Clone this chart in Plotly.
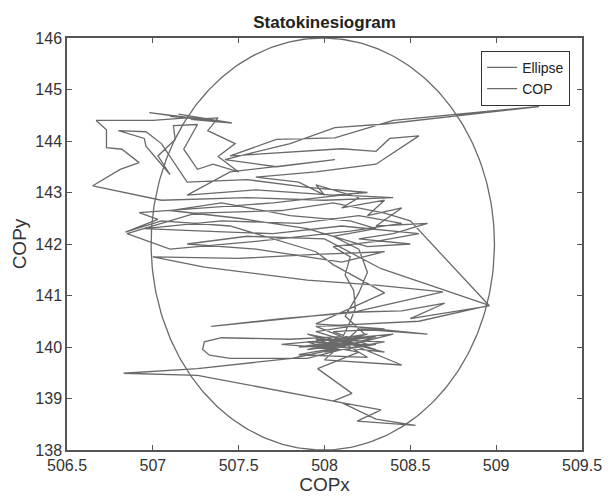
import numpy as np
import plotly.graph_objects as go

# ---- data ----
ellipse_center_x = 507.99
ellipse_center_y = 142.0
ellipse_radius_x = 1.0
ellipse_radius_y = 4.0

cop_points = [
    (508.05,140.10),(507.90,140.25),(508.20,140.05),(507.85,140.00),(508.30,140.20),(508.00,139.90),
    (508.35,140.10),(507.95,140.15),(508.15,139.95),(507.75,140.05),(508.40,140.25),(508.10,140.00),
    (507.85,139.85),(508.25,139.80),(508.05,140.20),(508.45,139.65),(508.00,139.75),(508.20,140.35),
    (508.60,140.25),(508.15,140.40),(507.95,140.30),(508.30,139.95),(508.10,140.15),
    (508.15,140.50),(508.18,140.75),(508.17,141.10),(508.12,141.40),(508.15,141.75),(508.05,141.95),
    (508.30,142.05),(508.55,142.20),(508.10,142.35),(507.70,142.20),(507.30,142.25),(506.95,142.30),
    (507.40,142.45),(507.85,142.40),(508.20,142.55),(508.45,142.40),(508.15,142.25),(507.60,142.05),
    (507.10,141.90),(506.85,142.20),(507.25,142.60),(507.75,142.65),(508.05,142.80),(508.35,142.60),
    (508.50,142.45),(508.96,140.80),(508.50,140.55),(508.70,140.85),(508.45,140.70),(508.20,140.68),
    (507.75,140.55),(507.34,140.40),(508.19,140.69),(508.69,141.07),(508.30,141.20),(507.90,141.30),
    (507.30,141.55),(507.00,141.75),(507.50,141.72),(507.95,141.80),(508.35,141.85),(508.10,141.65),
    (507.60,141.90),(507.20,142.00),(507.55,142.15),(508.00,142.10),(508.33,141.52),(508.96,140.81),
    (508.55,140.50),(508.20,140.45),(507.95,140.40),(508.10,140.20),(507.80,140.15),(507.40,140.18),
    (507.30,140.10),(507.29,139.95),(507.33,139.84),(507.45,139.78),(507.90,139.78),(508.10,139.95),
    (508.30,140.05),(507.95,140.05),(508.20,139.90),(507.96,139.58),(508.16,139.10),(508.05,138.95),
    (508.33,138.78),(508.19,138.56),(508.53,138.48),(508.30,138.60),(508.10,138.92),(507.26,139.45),
    (506.83,139.49),(507.26,139.58),(507.81,139.78),(508.05,139.95),(507.90,140.10),(508.25,140.05),
    (508.05,140.30),(508.35,140.35),(507.95,140.45),(508.35,141.05),(508.05,141.60),(507.95,141.85),
    (507.70,142.10),(507.45,142.35),(507.05,142.45),(506.84,142.23),(507.03,142.48),(506.92,142.61),
    (507.30,142.70),(507.70,142.80),(508.10,142.95),(508.40,142.90),(508.00,142.85),(507.55,142.90),
    (507.05,142.85),(506.65,143.13),(506.81,143.45),(506.92,143.58),(506.82,143.84),(506.73,143.87),
    (506.73,144.22),(506.67,144.40),(507.00,144.40),(507.20,144.45),(506.98,144.55),(507.30,144.42),
    (507.10,144.48),(507.40,144.38),(507.15,144.52),(507.46,144.35),(507.22,144.42),(507.38,144.45),
    (507.32,144.20),(507.48,143.95),(507.38,143.70),(507.50,143.40),(507.35,143.55),(507.26,143.45),
    (507.18,143.84),(507.26,144.32),(507.12,144.30),(507.13,144.03),(507.03,143.71),(507.10,143.35),
    (506.96,143.90),(506.95,144.05),(506.80,144.20),(506.96,144.18),(507.05,143.95),(507.20,143.20),
    (507.55,143.25),(507.90,143.10),(508.25,143.00),(508.05,142.95),(507.60,143.05),(507.20,142.95),
    (507.45,143.40),(508.06,143.64),(507.72,143.50),(507.42,143.64),(507.80,143.95),(508.06,144.26),
    (508.35,144.33),(509.25,144.67),(508.40,144.40),(508.06,144.06),(507.72,144.03),(507.45,143.71),
    (507.75,143.78),(508.10,143.85),(508.30,143.80),(508.38,144.05),(508.55,144.10),(508.30,143.55),
    (507.95,143.40),(507.60,143.30),(507.85,143.20),(508.00,142.95),(507.95,143.15),(508.20,142.90),
    (508.10,142.70),(508.35,142.85),(508.25,142.55),(508.45,142.70),(508.30,142.35),(508.60,142.40),
    (508.40,142.20),(508.20,142.10),(508.50,142.00),(508.25,141.95),(507.90,142.30),(507.50,142.50),
    (507.10,142.65),(507.40,142.80),(507.80,142.55),(508.15,142.45),(508.30,142.30),(508.05,142.15),
    (508.20,141.90),(508.25,141.45),(508.20,141.05),(508.12,140.60),(508.25,140.20),(507.95,140.05),
    (508.35,139.90),(508.05,140.15),(508.25,140.25),(507.90,139.95),(508.15,140.05),
]
cop_x = [p[0] for p in cop_points]
cop_y = [p[1] for p in cop_points]

x_ticks = [506.5, 507, 507.5, 508, 508.5, 509, 509.5]
y_ticks = [138, 139, 140, 141, 142, 143, 144, 145, 146]

t = np.linspace(0, 2 * np.pi, 300)
ell_x = ellipse_center_x + ellipse_radius_x * np.cos(t)
ell_y = ellipse_center_y + ellipse_radius_y * np.sin(t)

line_color = "#6a6a6a"
font_family = "Liberation Sans, Arial, Helvetica"
fig = go.Figure()
fig.add_trace(go.Scatter(x=ell_x, y=ell_y, mode="lines", name="Ellipse",
                         line=dict(color=line_color, width=1.3)))
fig.add_trace(go.Scatter(x=cop_x, y=cop_y, mode="lines", name="COP",
                         line=dict(color=line_color, width=1.3)))

axis_common = dict(showline=True, mirror="ticks", linecolor="#555555", linewidth=1.5,
                   ticks="inside", ticklen=5, tickcolor="#555555", showgrid=False,
                   zeroline=False, tickfont=dict(family=font_family, size=16, color="#333333"))

fig.update_layout(
    width=614, height=501,
    margin=dict(l=67, r=22, t=38, b=49),
    paper_bgcolor="white", plot_bgcolor="white",
    title=dict(text="<b>Statokinesiogram</b>", xref="paper", x=0.5, xanchor="center",
               y=0.955, yanchor="middle",
               font=dict(family=font_family, size=17, color="#222222")),
    xaxis=dict(range=[506.5, 509.5], tickvals=x_ticks, ticktext=[f"{v:g}" for v in x_ticks],
               title=dict(text="COPx", standoff=2, font=dict(family=font_family, size=19, color="#333333")),
               **axis_common),
    yaxis=dict(range=[138, 146], tickvals=y_ticks, ticktext=[str(v) for v in y_ticks],
               title=dict(text="COPy", standoff=4, font=dict(family=font_family, size=19, color="#333333")),
               **axis_common),
    legend=dict(x=0.977, y=0.969, xanchor="right", yanchor="top", bgcolor="white",
                bordercolor="#333333", borderwidth=1,
                font=dict(family=font_family, size=14, color="#222222"),
                tracegroupgap=0),
    showlegend=True,
)

fig.write_html("out.html")
